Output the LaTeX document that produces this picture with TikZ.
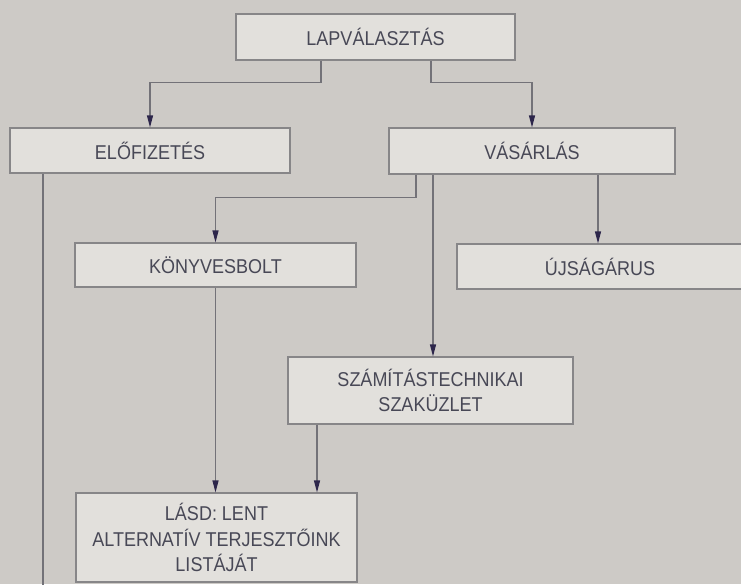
\documentclass[tikz,border=0pt]{standalone}
\usepackage{fontspec}
\setmainfont{Liberation Sans}[FakeStretch=0.9]
\usetikzlibrary{arrows.meta}
\definecolor{paper}{RGB}{205,202,198}
\definecolor{boxfill}{RGB}{226,224,220}
\definecolor{boxline}{RGB}{135,134,136}
\definecolor{linkline}{RGB}{115,114,120}
\definecolor{tipcol}{RGB}{45,38,75}
\definecolor{inkcol}{RGB}{72,72,86}

\begin{document}
\begin{tikzpicture}[x=1pt,y=-1pt,
    box/.style={draw=boxline, line width=1.1pt, fill=boxfill, text=inkcol, align=center, inner sep=0pt, font=\fontsize{20}{25.5}\selectfont},
    link/.style={draw=linkline, line width=1.1pt},
    arr/.style={link, -{Triangle[length=12pt,width=6pt,color=tipcol]}}]
    \clip (0,0) rectangle (741,584);
    \fill[paper] (0,0) rectangle (741,584);
    % Boxes
    \node[box, minimum width=279pt, minimum height=46pt] (lap) at (375.5,37) {LAPVÁLASZTÁS};
    \node[box, minimum width=280pt, minimum height=45pt] (elo) at (150,150.5) {ELŐFIZETÉS};
    \node[box, minimum width=286pt, minimum height=46pt] (vas) at (532,151) {VÁSÁRLÁS};
    \node[box, minimum width=281pt, minimum height=44pt] (konyv) at (215.5,265) {KÖNYVESBOLT};
    \node[box, minimum width=286pt, minimum height=45pt] (ujsag) at (600,266.5) {ÚJSÁGÁRUS};
    \node[box, minimum width=285pt, minimum height=67pt] (szam) at (430.5,390.5) {SZÁMÍTÁSTECHNIKAI\\SZAKÜZLET};
    \node[box, minimum width=281pt, minimum height=89pt] (lasd) at (216.5,537.5) {LÁSD: LENT\\ALTERNATÍV TERJESZTŐINK\\LISTÁJÁT};
    % Links
    \draw[arr] ([xshift=-54.5pt]lap.south) -- ++(0,22) -| (elo.north);
    \draw[arr] ([xshift=55.5pt]lap.south) -- ++(0,22) -| (vas.north);
    \draw[arr] ([xshift=-116pt]vas.south) -- ++(0,23) -| (konyv.north);
    \foreach \from/\dx/\to in {vas/-99/szam, vas/66/ujsag, konyv/0/lasd, szam/-113.5/lasd} {
        \draw[arr] ([xshift=\dx pt]\from.south) coordinate (p) -- (p |- \to.north);
    }
    \coordinate (eloend) at (43,600);
    \draw[link] (eloend |- elo.south) -- (eloend);
\end{tikzpicture}
\end{document}
